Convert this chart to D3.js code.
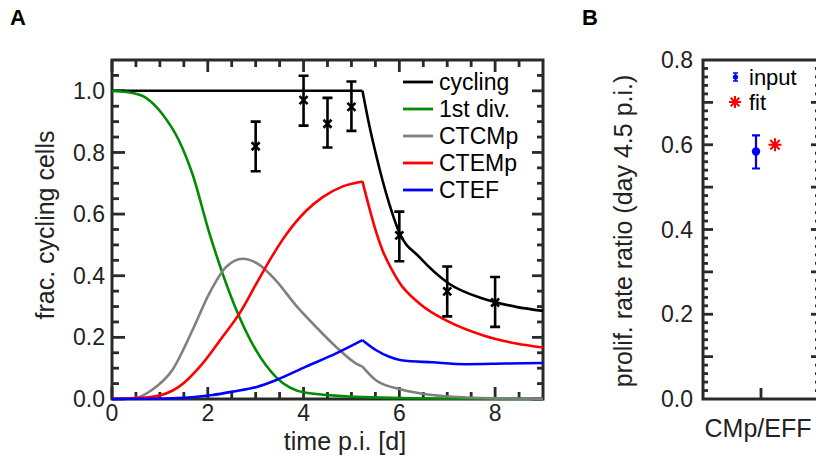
<!DOCTYPE html>
<html>
<head>
<meta charset="utf-8">
<script src="https://cdn.jsdelivr.net/npm/d3@7"></script>
<style>
body { margin: 0; background: #fff; }
svg { font-family: "Liberation Sans", Arial, Helvetica, sans-serif; }
</style>
</head>
<body>
<div id="chart"></div>
<script>

// panel A: model curves, [time, fraction]
var kinkT = 5.23;
var cycling = [[0,1],[5.23,1],[5.37,0.89],[5.51,0.795],[5.65,0.709],[5.79,0.633],[6.0,0.54],[6.42,0.46],[7.04,0.374],[7.74,0.326],[8.44,0.299],[9.0,0.286]];
var firstDiv = [[0,1],[0.42,0.993],[0.7,0.978],[1.05,0.925],[1.4,0.838],[1.68,0.73],[2.03,0.54],[2.31,0.407],[2.66,0.266],[3.0,0.16],[3.42,0.072],[4.05,0.02],[5.1,0.007],[6,0.003],[7,0.001],[9,0]];
var ctcmp = [[0,0],[0.45,0.002],[0.84,0.03],[1.26,0.094],[1.68,0.223],[2.03,0.342],[2.38,0.428],[2.73,0.455],[3.04,0.439],[3.42,0.385],[3.84,0.304],[4.26,0.234],[4.68,0.169],[5.1,0.115],[5.23,0.105],[5.51,0.061],[6.04,0.031],[6.69,0.013],[7.39,0.005],[8.0,0.002],[9,0.001]];
var ctemp = [[0,0],[0.84,0.007],[1.4,0.04],[1.89,0.115],[2.31,0.202],[2.66,0.277],[3.0,0.37],[3.35,0.465],[3.63,0.532],[4.05,0.61],[4.4,0.655],[4.82,0.69],[5.23,0.706],[5.37,0.622],[5.51,0.545],[5.65,0.482],[5.86,0.415],[6.0,0.378],[6.42,0.31],[7.04,0.25],[7.74,0.207],[8.44,0.18],[9.0,0.167]];
var ctef = [[0,0],[1,0.001],[1.5,0.004],[2.1,0.013],[2.52,0.024],[3.04,0.04],[3.42,0.061],[4.05,0.105],[4.68,0.148],[5.23,0.191],[5.51,0.159],[5.79,0.137],[6.04,0.126],[6.69,0.119],[7.39,0.113],[8.2,0.115],[9.0,0.117]];

var seriesNames = ["cycling", "1st div.", "CTCMp", "CTEMp", "CTEF"];
var seriesColors = ["#000000", "#008c00", "#808080", "#ff0000", "#0000ff"];

// panel A: measured points
var dataT = [3, 4, 4.5, 5, 6, 7, 8];
var dataMean = [0.82, 0.97, 0.893, 0.948, 0.531, 0.349, 0.313];
var dataLo = [0.739, 0.887, 0.816, 0.87, 0.447, 0.268, 0.234];
var dataHi = [0.90, 1.049, 0.977, 1.03, 0.608, 0.43, 0.396];

var xTicksA = [0, 2, 4, 6, 8];
var yTicksA = [0, 0.2, 0.4, 0.6, 0.8, 1.0];

// panel B
var ratioCats = ["CMp/EFF"];
var ratioInput = [0.584];
var ratioLo = [0.544];
var ratioHi = [0.622];
var ratioFit = [0.60];
var yTicksB = [0, 0.2, 0.4, 0.6, 0.8];


var svg = d3.select("#chart").append("svg").attr("width", 816).attr("height", 464);
var tickCol = "#2a2a2a";
var fmt1 = d3.format(".1f");

// inward tick marks along one side of a frame
function tickMarks(vals, scale, side, pos, len) {
	var g = svg.append("g").attr("class", "ticks " + side);
	g.selectAll("line").data(vals).join("line")
		.attr("x1", function(d){ return side == "left" || side == "right" ? pos : scale(d); })
		.attr("x2", function(d){ return side == "left" ? pos + len : side == "right" ? pos - len : scale(d); })
		.attr("y1", function(d){ return side == "top" || side == "bottom" ? pos : scale(d); })
		.attr("y2", function(d){ return side == "bottom" ? pos - len : side == "top" ? pos + len : scale(d); })
		.attr("stroke", tickCol).attr("stroke-width", 2.8);
}

function frame(b) {
	svg.append("rect").attr("x", b.left).attr("y", b.top).attr("width", b.right - b.left).attr("height", b.bottom - b.top)
		.attr("fill", "none").attr("stroke", tickCol).attr("stroke-width", 3);
}

// ---------- panel A ----------
var A = {left: 112, right: 543, top: 60, bottom: 399};
var x = d3.scaleLinear().domain([0, 9]).range([A.left, A.right]);
var y = d3.scaleLinear().domain([0, 1.1]).range([A.bottom, A.top]);

var xMinorA = d3.range(1, 18).map(function(i){ return i * 0.5; }).filter(function(d){ return d % 2 !== 0; });
var yMinorA = d3.range(1, 22).map(function(i){ return i * 0.05; }).filter(function(d, i){ return (i + 1) % 4 !== 0; });

frame(A);
tickMarks(yTicksA, y, "left", A.left, 13);
tickMarks(yMinorA, y, "left", A.left, 7);
tickMarks(yTicksA, y, "right", A.right, 11);
tickMarks(yMinorA, y, "right", A.right, 6);
tickMarks(xTicksA, x, "bottom", A.bottom, 12);
tickMarks(xMinorA, x, "bottom", A.bottom, 7);
tickMarks(xTicksA, x, "top", A.top, 12);
tickMarks(xMinorA, x, "top", A.top, 7);

svg.append("g").selectAll("text").data(yTicksA).join("text")
	.attr("x", A.left - 7).attr("y", function(d){ return y(d); }).attr("dy", "0.35em")
	.attr("text-anchor", "end").attr("font-size", 23).attr("fill", "#222").text(fmt1);
svg.append("g").selectAll("text").data(xTicksA).join("text")
	.attr("x", function(d){ return x(d); }).attr("y", A.bottom + 22)
	.attr("text-anchor", "middle").attr("font-size", 23).attr("fill", "#222").text(function(d){ return d; });

var line = d3.line().x(function(d){ return x(d[0]); }).y(function(d){ return y(d[1]); }).curve(d3.curveMonotoneX);
var curves = svg.append("g").attr("class", "curves");
[cycling, firstDiv, ctcmp, ctemp, ctef].forEach(function(s, i){
	// split at the kink so the corner stays sharp
	var hasKink = i !== 1;
	var parts = hasKink ? [s.filter(function(d){ return d[0] <= kinkT; }), s.filter(function(d){ return d[0] >= kinkT; })] : [s];
	curves.append("path")
		.attr("d", parts.map(function(p){ return line(p); }).join(""))
		.attr("fill", "none").attr("stroke", seriesColors[i]).attr("stroke-width", 2.6);
});

var pts = svg.append("g").attr("class", "points");
dataT.forEach(function(t, i){
	var cx = x(t);
	pts.append("path")
		.attr("d", "M" + (cx - 5) + "," + y(dataHi[i]) + "h10M" + cx + "," + y(dataHi[i]) + "V" + y(dataLo[i]) + "M" + (cx - 5) + "," + y(dataLo[i]) + "h10")
		.attr("stroke", "#000").attr("stroke-width", 2.6).attr("fill", "none");
	var cy = y(dataMean[i]);
	pts.append("path")
		.attr("d", "M" + (cx - 4) + "," + (cy - 4) + "l8,8M" + (cx - 4) + "," + (cy + 4) + "l8,-8")
		.attr("stroke", "#000").attr("stroke-width", 2.6);
});

var legA = svg.append("g").attr("class", "legend");
seriesNames.forEach(function(n, i){
	var ly = 82 + i * 27;
	legA.append("line").attr("x1", 403).attr("x2", 433).attr("y1", ly).attr("y2", ly)
		.attr("stroke", seriesColors[i]).attr("stroke-width", 2.8);
	legA.append("text").attr("x", 439).attr("y", ly).attr("dy", "0.35em")
		.attr("font-size", 23).attr("fill", "#000").text(n);
});

svg.append("text").attr("x", 345).attr("y", 450).attr("text-anchor", "middle")
	.attr("font-size", 25).attr("fill", "#222").text("time p.i. [d]");
svg.append("text").attr("transform", "translate(54,225) rotate(-90)")
	.attr("text-anchor", "middle").attr("font-size", 25).attr("fill", "#222").text("frac. cycling cells");
svg.append("text").attr("x", 10).attr("y", 25).attr("font-size", 22).attr("font-weight", "bold").text("A");

// ---------- panel B ----------
var B = {left: 703, right: 819, top: 60, bottom: 399};
var yb = d3.scaleLinear().domain([0, 0.8]).range([B.bottom, B.top]);
var xb = d3.scaleBand().domain(ratioCats).range([B.left, B.right]);
var yMajorB = d3.range(1, 8).map(function(i){ return i * 0.1; });
var yMinorB = d3.range(1, 40).map(function(i){ return i * 0.02; }).filter(function(d, i){ return (i + 1) % 5 !== 0; });

frame(B);
tickMarks(yMajorB, yb, "left", B.left, 10);
tickMarks(yMinorB, yb, "left", B.left, 5);
tickMarks(yMajorB, yb, "right", B.right, 8);
tickMarks(yMinorB, yb, "right", B.right, 4);
tickMarks(ratioCats, function(c){ return xb(c) + xb.bandwidth() / 2; }, "bottom", B.bottom, 11);

svg.append("g").selectAll("text").data(yTicksB).join("text")
	.attr("x", B.left - 10).attr("y", function(d){ return yb(d); }).attr("dy", "0.35em")
	.attr("text-anchor", "end").attr("font-size", 23).attr("fill", "#222").text(fmt1);
svg.append("g").selectAll("text").data(ratioCats).join("text")
	.attr("x", function(c){ return xb(c) + xb.bandwidth() / 2 - 3; }).attr("y", B.bottom + 38)
	.attr("text-anchor", "middle").attr("font-size", 25).attr("fill", "#222").text(function(c){ return c; });

var blue = "#0000ff", red = "#ff0000";

function drawStar(cx, cy, r) {
	var d = r * 0.72;
	svg.append("path")
		.attr("d", "M" + (cx - r) + "," + cy + "h" + (2 * r) + "M" + cx + "," + (cy - r) + "v" + (2 * r) +
			"M" + (cx - d) + "," + (cy - d) + "l" + (2 * d) + "," + (2 * d) + "M" + (cx - d) + "," + (cy + d) + "l" + (2 * d) + "," + (-2 * d))
		.attr("stroke", red).attr("stroke-width", 2);
}

ratioCats.forEach(function(c, i){
	var cx = xb(c) + xb.bandwidth() / 2 - 5;
	svg.append("path")
		.attr("d", "M" + (cx - 4) + "," + yb(ratioHi[i]) + "h8M" + cx + "," + yb(ratioHi[i]) + "V" + yb(ratioLo[i]) + "M" + (cx - 4) + "," + yb(ratioLo[i]) + "h8")
		.attr("stroke", blue).attr("stroke-width", 2.2).attr("fill", "none");
	svg.append("circle").attr("cx", cx).attr("cy", yb(ratioInput[i])).attr("r", 4.2).attr("fill", blue);
	drawStar(xb(c) + xb.bandwidth() / 2 + 14, yb(ratioFit[i]), 6.5);
});

// legend B
svg.append("path").attr("d", "M733,73h5M735.5,73V81M733,81h5").attr("stroke", blue).attr("stroke-width", 1.6).attr("fill", "none");
svg.append("circle").attr("cx", 735.5).attr("cy", 77).attr("r", 2.6).attr("fill", blue);
svg.append("text").attr("x", 749).attr("y", 77).attr("dy", "0.35em").attr("font-size", 22).text("input");
drawStar(735, 102, 6);
svg.append("text").attr("x", 749).attr("y", 102).attr("dy", "0.35em").attr("font-size", 22).text("fit");

svg.append("text").attr("transform", "translate(632,231) rotate(-90)")
	.attr("text-anchor", "middle").attr("font-size", 25).attr("fill", "#222").text("prolif. rate ratio (day 4.5 p.i.)");
svg.append("text").attr("x", 582).attr("y", 25).attr("font-size", 22).attr("font-weight", "bold").text("B");

</script>
</body>
</html>
